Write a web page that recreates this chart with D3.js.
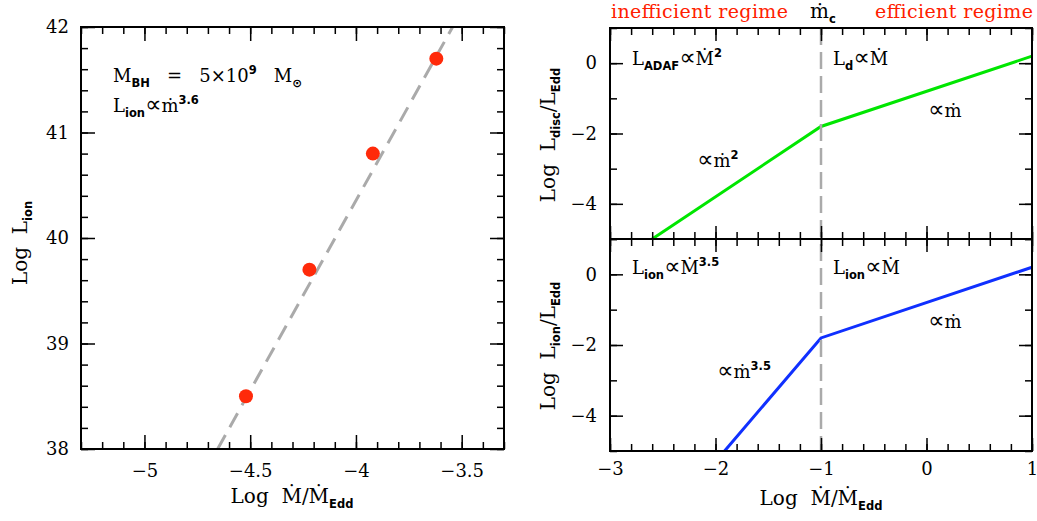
<!DOCTYPE html>
<html><head><meta charset="utf-8">
<script src="https://cdn.jsdelivr.net/npm/d3@7"></script>
<style>
body{margin:0;background:#fff}
svg text{font-family:"DejaVu Serif",serif;white-space:pre}
</style>
</head><body><svg id="c" width="1037" height="521"></svg>
<script>
// ---- data ----
const obsLogMdot = [-4.52, -4.22, -3.92, -3.62];
const obsLogLion = [38.5, 39.7, 40.8, 41.7];
const fitLogMdot = [-4.654, -3.543];
const fitLogLion = [38, 42];
const leftXTicks = [-5, -4.5, -4, -3.5];
const leftYTicks = [38, 39, 40, 41, 42];
const discLogMdot = [-2.6, -1, 1];
const discLogL = [-5, -1.8, 0.2];
const ionLogMdot = [-1.914, -1, 1];
const ionLogL = [-5, -1.8, 0.2];
const rightXTicks = [-3, -2, -1, 0, 1];
const rightYTicks = [-4, -2, 0];
const mdotCrit = [-1];

const svg = d3.select("#c");
const fmt = d3.format("");

// scales
const xL = d3.scaleLinear([-5.3, -3.3], [81, 504]);
const yL = d3.scaleLinear([38, 42], [449, 27]);
const xR = d3.scaleLinear([-3, 1], [610, 1032]);
const yT = d3.scaleLinear([-5, 1], [239, 28]);
const yB = d3.scaleLinear([-5, 1], [451, 239]);

function frame(x, y) {
  const [x0, x1] = x.range(), [y1, y0] = y.range();
  svg.append("rect").attr("x", x0).attr("y", y0).attr("width", x1 - x0).attr("height", y1 - y0)
    .attr("fill", "none").attr("stroke", "#000").attr("stroke-width", 2);
}

function axes(x, y, xMaj, yMaj, xMin, yMin, showX, big, small, xPad, yPad) {
  const [x0, x1] = x.range(), [y1, y0] = y.range();
  const style = g => { g.select(".domain").remove(); g.selectAll("line").attr("stroke", "#000").attr("stroke-width", 1.5);
    g.selectAll("text").attr("font-size", 18).attr("font-family", "DejaVu Serif").attr("fill", "#000"); };
  svg.append("g").attr("transform", `translate(0,${y1})`)
    .call(d3.axisBottom(x).tickValues(xMin).tickSizeInner(-small).tickSizeOuter(0).tickFormat("")).call(style);
  svg.append("g").attr("transform", `translate(0,${y1})`)
    .call(d3.axisBottom(x).tickValues(xMaj).tickSizeInner(-big).tickSizeOuter(0).tickPadding(xPad).tickFormat(showX ? fmt : "")).call(style);
  svg.append("g").attr("transform", `translate(0,${y0})`)
    .call(d3.axisTop(x).tickValues(xMin).tickSizeInner(-small).tickSizeOuter(0).tickFormat("")).call(style);
  svg.append("g").attr("transform", `translate(0,${y0})`)
    .call(d3.axisTop(x).tickValues(xMaj).tickSizeInner(-big).tickSizeOuter(0).tickFormat("")).call(style);
  svg.append("g").attr("transform", `translate(${x0},0)`)
    .call(d3.axisLeft(y).tickValues(yMin).tickSizeInner(-small).tickSizeOuter(0).tickFormat("")).call(style);
  svg.append("g").attr("transform", `translate(${x0},0)`)
    .call(d3.axisLeft(y).tickValues(yMaj).tickSizeInner(-big).tickSizeOuter(0).tickPadding(yPad).tickFormat(fmt)).call(style);
  svg.append("g").attr("transform", `translate(${x1},0)`)
    .call(d3.axisRight(y).tickValues(yMin).tickSizeInner(-small).tickSizeOuter(0).tickFormat("")).call(style);
  svg.append("g").attr("transform", `translate(${x1},0)`)
    .call(d3.axisRight(y).tickValues(yMaj).tickSizeInner(-big).tickSizeOuter(0).tickFormat("")).call(style);
}

// rich text: parts = [[text, kind]] kind: "", "sub", "sup", "prop"
function rich(parent, x, y, parts, opts = {}) {
  const t = parent.append("text").attr("x", x).attr("y", y)
    .attr("font-size", opts.size || 18).attr("fill", opts.color || "#000");
  if (opts.anchor) t.attr("text-anchor", opts.anchor);
  if (opts.transform) t.attr("transform", opts.transform);
  let shift = 0;
  parts.forEach(([s, k]) => {
    const target = k === "sub" ? 5 : k === "sup" ? -8 : 0;
    const sp = t.append("tspan").text(s).attr("dy", target - shift);
    shift = target;
    if (k === "sub" || k === "sup") sp.attr("font-size", 11.5).attr("font-weight", "bold").attr("font-family", "DejaVu Sans");
    if (k === "prop") sp.attr("font-size", 23).attr("font-family", "DejaVu Sans");
  });
  return t;
}

// ---- left panel ----
const lx = d3.line().x(d => xL(d[0])).y(d => yL(d[1]));
svg.append("clipPath").attr("id", "clipL").append("rect")
  .attr("x", 81).attr("y", 27).attr("width", 423).attr("height", 422);
svg.append("path").datum(d3.zip(fitLogMdot, fitLogLion)).attr("d", lx)
  .attr("clip-path", "url(#clipL)")
  .attr("stroke", "#aaaaaa").attr("stroke-width", 3).attr("fill", "none").attr("stroke-dasharray", "16,9");
svg.selectAll("circle.obs").data(d3.zip(obsLogMdot, obsLogLion)).join("circle")
  .attr("cx", d => xL(d[0])).attr("cy", d => yL(d[1])).attr("r", 7).attr("fill", "#ff2a0a");
frame(xL, yL);
axes(xL, yL, leftXTicks, leftYTicks, xL.ticks(20), yL.ticks(20), true, 14, 7, 15, 12);

rich(svg, 113, 82, [["M", ""], ["BH", "sub"], ["   =   5×10", ""], ["9", "sup"], ["   M", ""], ["⊙", "sub"]]);
rich(svg, 113, 112, [["L", ""], ["ion", "sub"], ["∝", "prop"], ["ṁ", ""], ["3.6", "sup"]]);
rich(svg, 0, 0, [["Log  L", ""], ["ion", "sub"]], { anchor: "middle", size: 20, transform: "translate(27,243) rotate(-90)" });
rich(svg, 292, 503, [["Log  Ṁ/Ṁ", ""], ["Edd", "sub"]], { anchor: "middle", size: 20 });

// ---- right panels ----
const lt = d3.line().x(d => xR(d[0])).y(d => yT(d[1]));
const lb = d3.line().x(d => xR(d[0])).y(d => yB(d[1]));
svg.append("path").datum(d3.zip(discLogMdot, discLogL)).attr("d", lt)
  .attr("stroke", "#00e600").attr("stroke-width", 3).attr("fill", "none");
svg.append("path").datum(d3.zip(ionLogMdot, ionLogL)).attr("d", lb)
  .attr("stroke", "#1030ff").attr("stroke-width", 3).attr("fill", "none");
svg.selectAll("line.crit").data(mdotCrit).join("line").attr("class", "crit")
  .attr("x1", d => xR(d)).attr("x2", d => xR(d)).attr("y1", yT(1)).attr("y2", yB(-5))
  .attr("stroke", "#aaaaaa").attr("stroke-width", 2.5).attr("stroke-dasharray", "17,7");
frame(xR, yT);
frame(xR, yB);
axes(xR, yT, rightXTicks, rightYTicks, xR.ticks(20), yT.ticks(6), false, 13, 7, 11, 13);
axes(xR, yB, rightXTicks, rightYTicks, xR.ticks(20), yB.ticks(6), true, 13, 7, 11, 13);

rich(svg, 632, 65, [["L", ""], ["ADAF", "sub"], ["∝", "prop"], ["Ṁ", ""], ["2", "sup"]]);
rich(svg, 833, 65, [["L", ""], ["d", "sub"], ["∝", "prop"], ["Ṁ", ""]]);
rich(svg, 928, 117, [["∝", "prop"], ["ṁ", ""]]);
rich(svg, 697, 167, [["∝", "prop"], ["ṁ", ""], ["2", "sup"]]);
rich(svg, 632, 274, [["L", ""], ["ion", "sub"], ["∝", "prop"], ["Ṁ", ""], ["3.5", "sup"]]);
rich(svg, 833, 274, [["L", ""], ["ion", "sub"], ["∝", "prop"], ["Ṁ", ""]]);
rich(svg, 928, 328, [["∝", "prop"], ["ṁ", ""]]);
rich(svg, 717, 378, [["∝", "prop"], ["ṁ", ""], ["3.5", "sup"]]);

rich(svg, 0, 0, [["Log  L", ""], ["disc", "sub"], ["/L", ""], ["Edd", "sub"]], { anchor: "middle", size: 20, transform: "translate(555,135) rotate(-90)" });
rich(svg, 0, 0, [["Log  L", ""], ["ion", "sub"], ["/L", ""], ["Edd", "sub"]], { anchor: "middle", size: 20, transform: "translate(555,346) rotate(-90)" });
rich(svg, 821, 505, [["Log  Ṁ/Ṁ", ""], ["Edd", "sub"]], { anchor: "middle", size: 20 });

// header
svg.append("text").attr("x", 611).attr("y", 18).attr("font-size", 19).attr("fill", "#ff2000")
  .attr("textLength", 177).attr("lengthAdjust", "spacing").text("inefficient regime");
svg.append("text").attr("x", 875).attr("y", 18).attr("font-size", 19).attr("fill", "#ff2000")
  .attr("textLength", 158).attr("lengthAdjust", "spacing").text("efficient regime");
rich(svg, 810, 18, [["ṁ", ""], ["c", "sub"]], { size: 20 });
</script></body></html>
